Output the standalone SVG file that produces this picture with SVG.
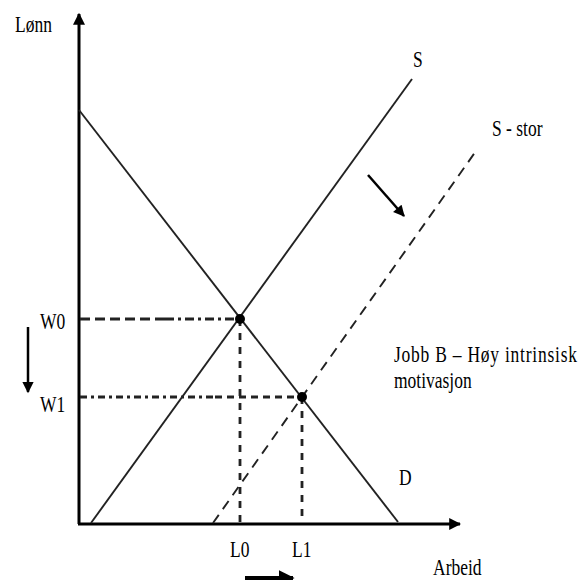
<svg xmlns="http://www.w3.org/2000/svg" width="587" height="580" viewBox="0 0 587 580">
<style>
text{font-family:"Liberation Serif","Times New Roman",serif;font-size:17.5px;fill:#000}
.ax{stroke:#000;stroke-width:3;fill:none}
.cv{stroke:#222;stroke-width:1.9;fill:none}
.dash{stroke:#222;stroke-width:2.8;fill:none}
.arr{stroke:#000;stroke-width:2.5;fill:none}
</style>
<defs>
<marker id="ah" viewBox="0 0 10 10" refX="9" refY="5" markerWidth="4" markerHeight="4" orient="auto" markerUnits="strokeWidth"><path d="M0,0 L10,5 L0,10 z" fill="#000"/></marker>
<marker id="ah2" viewBox="0 0 10 10" refX="9" refY="5" markerWidth="5" markerHeight="4.5" orient="auto" markerUnits="strokeWidth"><path d="M0,0 L10,5 L0,10 z" fill="#000"/></marker>
</defs>
<g id="axes">
<line class="ax" x1="79" y1="524" x2="79" y2="14" marker-end="url(#ah)"/>
<line class="ax" x1="78" y1="524" x2="460" y2="524" marker-end="url(#ah)"/>
</g>
<g id="connectors">
<line id="D" class="cv" x1="79" y1="110" x2="398" y2="522"/>
<line id="S" class="cv" x1="91" y1="523" x2="412" y2="79"/>
<line id="Sstor" class="cv" x1="213" y1="523" x2="476" y2="151" stroke-dasharray="10,7"/>
<line class="dash" x1="80" y1="319" x2="165" y2="319" stroke-dasharray="10,5"/>
<line class="dash" x1="165" y1="319" x2="240" y2="319" stroke-dasharray="9,4,3,4"/>
<line class="dash" x1="80" y1="397" x2="215" y2="397" stroke-dasharray="7,4,3,4"/>
<line class="dash" x1="215" y1="397" x2="302" y2="397" stroke-dasharray="7,5"/>
<line class="dash" x1="240" y1="319" x2="240" y2="523" stroke-dasharray="7,7"/>
<line class="dash" x1="302" y1="397" x2="302" y2="523" stroke-dasharray="7,7"/>
<line class="arr" x1="368" y1="175" x2="404" y2="216" marker-end="url(#ah2)"/>
<line class="arr" x1="28" y1="327" x2="28" y2="392" marker-end="url(#ah2)"/>
<line x1="245" y1="578" x2="293" y2="578" stroke="#000" stroke-width="4" marker-end="url(#ah)"/>
</g>
<g id="points">
<circle cx="240" cy="319" r="5" fill="#000"/>
<circle cx="302" cy="397" r="5" fill="#000"/>
</g>
<g id="labels">
<text transform="translate(15,32) scale(1,1.3)">Lønn</text>
<text transform="translate(413,67) scale(1,1.3)">S</text>
<text transform="translate(492,136) scale(1,1.3)">S - stor</text>
<text transform="translate(40,329) scale(1,1.3)">W0</text>
<text transform="translate(40,412) scale(1,1.3)">W1</text>
<text transform="translate(394,362) scale(1,1.3)" textLength="183">Jobb B – Høy intrinsisk</text>
<text transform="translate(394,388) scale(1,1.3)">motivasjon</text>
<text transform="translate(399,485) scale(1,1.3)">D</text>
<text transform="translate(230,557) scale(1,1.3)">L0</text>
<text transform="translate(292,557) scale(1,1.3)">L1</text>
<text transform="translate(433,575) scale(1,1.3)">Arbeid</text>
</g>
</svg>
